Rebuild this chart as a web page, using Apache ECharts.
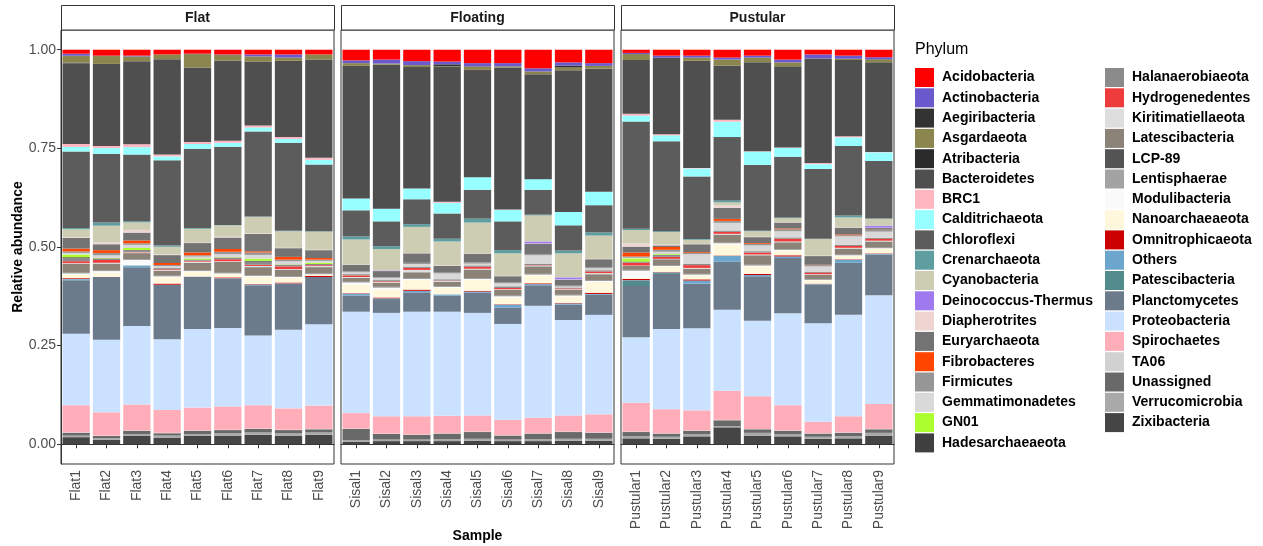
<!DOCTYPE html>
<html>
<head>
<meta charset="utf-8">
<script src="https://cdn.jsdelivr.net/npm/echarts@6.0.0/dist/echarts.min.js"></script>
<style>
  html, body { margin: 0; padding: 0; background: #fff; }
  #chart { width: 1263px; height: 546px; }
</style>
</head>
<body>
<div id="chart"></div>
<script>
const FONT = '"Liberation Sans", Arial, sans-serif'

const panels = ['Flat', 'Floating', 'Pustular']
const samples = [
  'Flat1', 'Flat2', 'Flat3', 'Flat4', 'Flat5', 'Flat6', 'Flat7', 'Flat8', 'Flat9',
  'Sisal1', 'Sisal2', 'Sisal3', 'Sisal4', 'Sisal5', 'Sisal6', 'Sisal7', 'Sisal8', 'Sisal9',
  'Pustular1', 'Pustular2', 'Pustular3', 'Pustular4', 'Pustular5', 'Pustular6', 'Pustular7', 'Pustular8', 'Pustular9'
]
const yTicks = [0, 0.25, 0.5, 0.75, 1]

const phyla = [
  'Acidobacteria', 'Actinobacteria', 'Aegiribacteria', 'Asgardaeota', 'Atribacteria',
  'Bacteroidetes', 'BRC1', 'Calditrichaeota', 'Chloroflexi', 'Crenarchaeota',
  'Cyanobacteria', 'Deinococcus-Thermus', 'Diapherotrites', 'Euryarchaeota', 'Fibrobacteres',
  'Firmicutes', 'Gemmatimonadetes', 'GN01', 'Hadesarchaeaeota', 'Halanaerobiaeota',
  'Hydrogenedentes', 'Kiritimatiellaeota', 'Latescibacteria', 'LCP-89', 'Lentisphaerae',
  'Modulibacteria', 'Nanoarchaeaeota', 'Omnitrophicaeota', 'Others', 'Patescibacteria',
  'Planctomycetes', 'Proteobacteria', 'Spirochaetes', 'TA06', 'Unassigned',
  'Verrucomicrobia', 'Zixibacteria'
]
const phylumColors = [
  '#FF0000', '#6A5ACD', '#333333', '#8B864E', '#2B2B2B',
  '#4F4F4F', '#FFB6C1', '#97FFFF', '#5C5C5C', '#5F9EA0',
  '#CDCDB4', '#9F79EE', '#EED5D2', '#737373', '#FF4500',
  '#969696', '#D9D9D9', '#ADFF2F', '#404040', '#8B8B8B',
  '#EE3B3B', '#DEDEDE', '#8B8378', '#545454', '#A3A3A3',
  '#FAFAFA', '#FFF8DC', '#CD0000', '#6CA6CD', '#528B8B',
  '#6C7B8B', '#CAE1FF', '#FFAEB9', '#D1D1D1', '#696969',
  '#A9A9A9', '#454545'
]

// abundances in thousandths, order: Flat1-9, Sisal1-9, Pustular1-9
const acido   = [10,15,15,12,10,12,12,12,12, 27,25,29,30,34,34,47,32,34, 8,15,15,20,15,25,12,15,19]
const actino  = [5,1,2,0,1,1,5,8,0, 7,10,10,7,8,8,8,8,7, 3,5,5,5,5,7,10,8,5]
const aegiri  = [1,0,0,0,0,0,0,0,0, 0,0,0,5,1,0,0,5,0, 0,0,0,0,0,0,0,0,1]
const asgard  = [17,20,12,12,34,15,13,8,13, 7,3,5,2,8,3,7,7,7, 15,0,8,15,12,10,0,3,7]
const atri    = [1,0,0,0,0,0,0,0,0, 0,0,0,0,0,0,0,0,0, 0,0,0,0,0,0,0,0,0]
const bacter  = [205,208,211,241,189,203,162,193,249, 336,365,308,341,272,360,266,359,312, 136,194,272,138,225,206,265,193,227]
const brc1    = [7,5,7,5,5,5,5,5,5, 0,0,0,3,0,1,0,0,0, 5,3,1,5,1,1,3,3,1]
const caldi   = [12,15,19,10,12,10,10,10,12, 30,32,27,27,32,29,27,34,34, 15,15,20,39,34,22,12,22,22]
const chloro  = [194,174,169,216,201,198,216,223,169, 66,63,63,64,73,73,63,64,69, 272,228,159,161,167,154,177,176,146]
const cren    = [3,8,3,3,2,1,1,1,1, 8,7,7,7,10,8,2,7,8, 3,2,2,5,1,2,1,5,1]
const cyano   = [20,42,19,19,35,29,41,42,46, 63,54,66,61,78,57,66,61,59, 34,32,10,8,14,10,42,25,17]
const deino   = [0,0,0,0,0,0,0,0,0, 0,1,0,0,0,0,5,5,0, 0,0,0,0,0,0,0,0,5]
const diaph   = [2,5,7,2,1,2,2,1,1, 1,1,1,1,1,1,1,1,1, 8,2,1,6,1,1,1,1,1]
const eury    = [27,15,20,20,24,29,44,22,20, 17,15,24,17,22,15,27,15,20, 15,4,20,28,15,15,22,17,4]
const fibro   = [7,7,7,5,7,7,3,7,4, 0,0,0,0,0,0,0,0,0, 10,7,2,5,2,2,1,2,1]
const firmi   = [4,6,4,3,3,6,6,4,3, 2,2,3,2,3,3,2,2,3, 3,5,3,5,4,5,3,3,4]
const gemm    = [4,7,8,5,5,8,10,8,5, 5,6,7,15,5,8,22,3,5, 2,6,25,20,15,16,14,22,16]
const gn01    = [7,1,5,0,3,1,5,1,3, 0,0,0,0,0,0,0,0,0, 8,2,0,0,0,0,0,0,0]
const hades   = [2,1,1,1,1,1,2,1,1, 1,1,1,1,1,1,1,1,1, 1,1,1,1,1,1,1,1,1]
const halan   = [8,3,4,2,2,3,8,3,2, 2,2,2,2,2,3,2,1,2, 2,4,2,2,2,2,1,1,1]
const hydrog  = [5,7,1,2,2,5,3,7,2, 4,2,5,1,5,3,1,2,4, 7,5,7,5,5,7,4,5,5]
const kirit   = [2,2,2,2,3,2,3,2,3, 2,2,6,2,2,2,2,2,3, 1,1,2,2,2,2,2,2,2]
const latesc  = [22,17,15,12,19,27,20,16,16, 10,10,15,11,22,14,19,12,15, 10,15,13,20,24,17,10,15,15]
const lcp89   = [1,1,1,1,1,1,1,1,1, 1,1,1,1,1,1,1,1,1, 1,1,1,1,1,1,1,1,1]
const lentis  = [1,1,1,1,1,1,1,1,1, 1,1,1,1,1,1,1,1,1, 1,1,1,1,1,1,1,1,1]
const modul   = [3,5,12,2,2,2,2,2,1, 5,6,3,2,3,3,2,2,3, 19,2,2,3,2,2,1,2,1]
const nano    = [9,10,2,16,12,8,19,12,3, 22,19,24,17,27,17,20,17,27, 2,13,10,28,19,12,9,8,12]
const omni    = [2,0,0,3,0,2,1,2,3, 1,2,3,0,2,1,2,1,3, 3,1,3,1,3,3,1,1,1]
const others  = [2,0,5,1,0,1,2,1,0, 5,2,4,3,3,8,3,3,2, 2,1,8,15,3,4,1,8,2]
const patesc  = [2,0,0,0,0,0,0,0,0, 0,0,0,0,0,0,0,0,0, 13,3,0,0,0,0,0,0,0]
const plancto = [135,159,149,137,133,125,127,117,120, 41,35,49,41,51,41,52,39,51, 130,140,113,122,113,140,98,132,103]
const proteo  = [181,184,199,179,199,199,177,199,206, 257,262,265,264,260,243,284,242,252, 166,203,208,206,191,233,250,257,276]
const spiro   = [69,59,66,58,58,59,59,54,59, 39,44,46,44,41,39,39,41,46, 73,61,51,74,83,64,29,41,63]
const ta06    = [1,1,1,1,1,1,1,1,1, 1,1,1,1,1,1,1,1,1, 1,1,1,1,1,1,1,1,1]
const unass   = [7,6,8,6,8,8,9,8,8, 29,14,12,14,17,10,14,17,15, 10,8,8,15,9,8,8,8,9]
const verru   = [4,4,5,5,5,6,6,6,6, 4,4,4,5,5,4,5,5,5, 6,5,6,3,7,6,5,6,7]
const zixi    = [18,11,21,17,21,22,24,22,24, 6,8,8,8,9,8,8,9,9, 15,14,20,43,22,20,14,15,22]

const abundance = [
  acido, actino, aegiri, asgard, atri, bacter, brc1, caldi, chloro, cren,
  cyano, deino, diaph, eury, fibro, firmi, gemm, gn01, hades, halan,
  hydrog, kirit, latesc, lcp89, lentis, modul, nano, omni, others, patesc,
  plancto, proteo, spiro, ta06, unass, verru, zixi
]

// relative abundance: each sample sums to 1
const totals = samples.map((s, j) => abundance.reduce((acc, arr) => acc + arr[j], 0))

const panelLeft = [61, 341, 621]
const panelW = 273
const panelTop = 30
const panelH = 434

const grids = panels.map((p, i) => ({
  left: panelLeft[i], top: panelTop, width: panelW, height: panelH,
  show: true, borderColor: '#333333', borderWidth: 1, backgroundColor: '#fff'
}))

const xAxes = panels.map((p, i) => ({
  type: 'category',
  gridIndex: i,
  data: samples.slice(i * 9, i * 9 + 9),
  axisLine: { show: true, lineStyle: { color: '#333333' } },
  axisTick: { show: true, length: 4, alignWithLabel: true, lineStyle: { color: '#333333' } },
  axisLabel: { rotate: 90, fontSize: 14, color: '#4D4D4D', margin: 6, fontFamily: FONT }
}))

const yAxes = panels.map((p, i) => ({
  type: 'value',
  gridIndex: i,
  min: -0.05,
  max: 1.05,
  splitLine: { show: false },
  axisLine: { show: i === 0, lineStyle: { color: '#333333' } },
  axisTick: { show: i === 0, length: 4, customValues: yTicks, lineStyle: { color: '#333333' } },
  axisLabel: {
    show: i === 0, customValues: yTicks, formatter: v => v.toFixed(2),
    fontSize: 14, color: '#4D4D4D', margin: 5, fontFamily: FONT
  },
  name: i === 0 ? 'Relative abundance' : '',
  nameLocation: 'middle',
  nameGap: 35,
  nameTextStyle: { fontWeight: 'bold', fontSize: 14, color: '#000', fontFamily: FONT }
}))

const series = []
panels.forEach((p, pi) => {
  // ggplot puts the first level on top, so push from the last one
  for (let k = phyla.length - 1; k >= 0; k--) {
    series.push({
      name: phyla[k],
      type: 'bar',
      stack: p,
      xAxisIndex: pi,
      yAxisIndex: pi,
      barCategoryGap: '10%',
      silent: true,
      itemStyle: { color: phylumColors[k] },
      data: abundance[k].slice(pi * 9, pi * 9 + 9).map((v, j) => v / totals[pi * 9 + j])
    })
  }
})

const legendBase = {
  orient: 'vertical',
  top: 68,
  padding: 0,
  itemWidth: 19,
  itemHeight: 19,
  itemGap: 1.3,
  icon: 'rect',
  selectedMode: false,
  textStyle: { fontSize: 14, fontWeight: 'bold', color: '#000', fontFamily: FONT, padding: [0, 0, 0, 3] }
}

const chart = echarts.init(document.getElementById('chart'), null, { renderer: 'canvas' })

chart.setOption({
  animation: false,
  backgroundColor: '#fff',
  grid: grids,
  xAxis: xAxes,
  yAxis: yAxes,
  legend: [
    Object.assign({}, legendBase, { left: 915, data: phyla.slice(0, 19) }),
    Object.assign({}, legendBase, { left: 1105, data: phyla.slice(19) })
  ],
  graphic: [
    ...panels.map((p, i) => ({
      type: 'group',
      children: [
        {
          type: 'rect',
          shape: { x: panelLeft[i] + 0.5, y: 5.5, width: panelW, height: panelTop - 5.5 },
          style: { fill: '#fff', stroke: '#333333', lineWidth: 1 }
        },
        {
          type: 'text',
          style: {
            text: p, x: panelLeft[i] + panelW / 2, y: 18,
            align: 'center', verticalAlign: 'middle',
            font: 'bold 14px ' + FONT, fill: '#1A1A1A'
          }
        }
      ]
    })),
    {
      type: 'text',
      style: {
        text: 'Sample', x: (panelLeft[0] + panelLeft[2] + panelW) / 2, y: 536,
        align: 'center', verticalAlign: 'middle', font: 'bold 14px ' + FONT, fill: '#000'
      }
    },
    {
      type: 'text',
      style: {
        text: 'Phylum', x: 915, y: 50,
        align: 'left', verticalAlign: 'middle', font: '16px ' + FONT, fill: '#000'
      }
    }
  ],
  series: series
})
</script>
</body>
</html>
